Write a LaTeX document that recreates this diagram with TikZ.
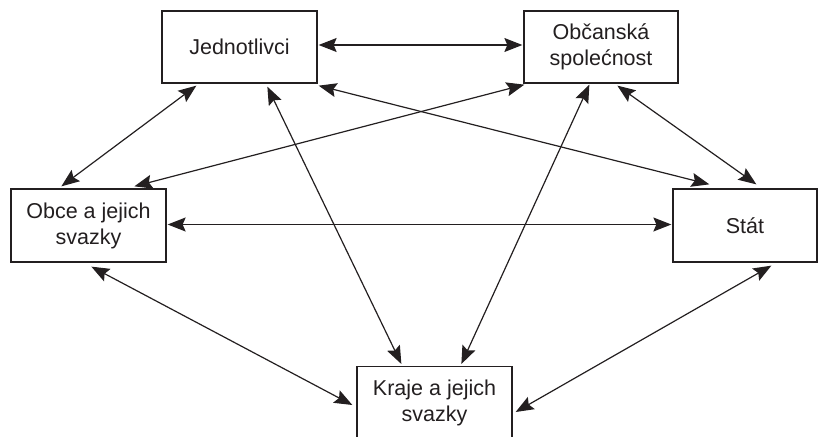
\documentclass[tikz,border=0pt]{standalone}
\usepackage{fontspec}
\setmainfont{Liberation Sans}
\usetikzlibrary{arrows.meta}
\definecolor{ink}{HTML}{231F20}
\begin{document}
\begin{tikzpicture}[x=1pt,y=-1pt,
  box/.style={draw=ink,line width=1.3pt,fill=white,inner sep=0pt,align=center,
    font=\fontsize{21.5pt}{26pt}\selectfont,text=ink},
  link/.style={draw=ink,line width=1.2pt,{Stealth[length=18pt,width=14pt,inset=3pt]}-{Stealth[length=18pt,width=14pt,inset=3pt]}}]
\useasboundingbox (0,0) rectangle (818,436);
\clip (0,0) rectangle (818,436);
\node[box,minimum width=155pt,minimum height=72pt] (J) at (239.5,47) {Jednotlivci};
\node[box,minimum width=154pt,minimum height=72pt] (B) at (601,47) {Občanská\\spolećnost};
\node[box,minimum width=155pt,minimum height=73pt] (O) at (88.5,225.5) {Obce a jejich\\svazky};
\node[box,minimum width=144pt,minimum height=73pt] (S) at (745,225.5) {Stát};
\node[box,minimum width=155pt,minimum height=72pt,anchor=north] (K) at (434.5,366) {Kraje a jejich\\svazky};
% connectors
\draw[link] ([yshift=2pt,xshift=1pt]J.east) -- ([yshift=2pt,xshift=-1pt]B.west);
\draw[link] ([xshift=35pt,yshift=-2pt]J.south west) -- ([xshift=51pt,yshift=2pt]O.north west);
\draw[link] ([xshift=106pt,yshift=-3pt]J.south west) -- ([xshift=45pt,yshift=2pt]K.north west);
\draw[link] ([xshift=1pt,yshift=-2pt]J.south east) -- ([xshift=37pt,yshift=4pt]S.north west);
\draw[link] ([xshift=1pt,yshift=-1pt]B.south west) -- ([xshift=124pt,yshift=2pt]O.north west);
\draw[link] ([xshift=66pt,yshift=-1pt]B.south west) -- ([xshift=105pt,yshift=2pt]K.north west);
\draw[link] ([xshift=94pt,yshift=-2pt]B.south west) -- ([xshift=84pt,yshift=4pt]S.north west);
\draw[link] ([xshift=1pt,yshift=1pt]O.east) -- ([xshift=-1pt,yshift=1pt]S.west);
\draw[link] ([xshift=81pt,yshift=-4pt]O.south west) -- ([xshift=-4pt,yshift=-39pt]K.north west);
\draw[link] ([xshift=99pt,yshift=-3pt]S.south west) -- ([xshift=3pt,yshift=-46pt]K.north east);
\end{tikzpicture}
\end{document}
